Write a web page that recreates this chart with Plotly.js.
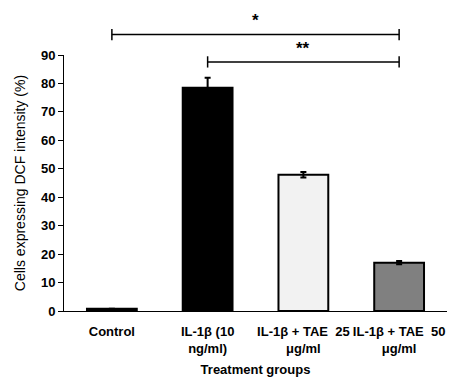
<!DOCTYPE html>
<html><head><meta charset="utf-8">
<script src="https://cdn.plot.ly/plotly-3.0.1.min.js"></script>
<style>body{margin:0;background:#fff}#c{width:457px;height:382px}</style>
</head><body><div id="c"></div>
<script>
const categories = ["Control", "IL-1β (10<br>ng/ml)", "IL-1β + TAE  25<br>μg/ml", "IL-1β + TAE  50<br>μg/ml"];
const values = [0.8, 78.5, 47.9, 17.0];
const errors = [0, 3.5, 1.0, 0.6];
const barColors = ["#000000", "#000000", "#f2f2f2", "#808080"];
const yTicks = [0, 10, 20, 30, 40, 50, 60, 70, 80, 90];
const compFrom = [0, 1];
const compTo = [3, 3];
const compLabel = ["*", "**"];
const compLevel = [1.08, 0.973];

const F = "Liberation Sans, Arial, sans-serif";
const shapes = [], annotations = [];
compFrom.forEach((f, i) => {
  const a = categories[f], b = categories[compTo[i]], y = compLevel[i];
  shapes.push({type:"line", xref:"x", yref:"paper", x0:a, x1:b, y0:y, y1:y, line:{color:"#000", width:1.5}});
  [a, b].forEach(c => shapes.push({type:"line", xref:"x", yref:"paper", x0:c, x1:c, y0:y-0.022, y1:y+0.022, line:{color:"#000", width:1.5}}));
  annotations.push({xref:"paper", yref:"paper", x:((f + compTo[i]) / 2 + 0.5) / categories.length, y:y + 0.008, text:compLabel[i], showarrow:false, yanchor:"bottom", font:{family:F, size:17, color:"#000", weight:"bold"}});
});

Plotly.newPlot("c", [{
  type:"bar", x:categories, y:values,
  marker:{color:barColors, line:{color:"#000", width:2}},
  error_y:{type:"data", array:errors, visible:true, color:"#000", thickness:2, width:3},
  cliponaxis:false
}], {
  width:457, height:382,
  margin:{l:64, r:10, t:55, b:71},
  paper_bgcolor:"#fff", plot_bgcolor:"#fff",
  bargap:0.48,
  showlegend:false,
  font:{family:F, color:"#000"},
  xaxis:{showline:true, linecolor:"#000", linewidth:1, ticks:"", showgrid:false, zeroline:false,
    ticklabelstandoff:8,
    tickfont:{family:F, size:13, weight:"bold", color:"#000"},
    title:{text:"Treatment groups", font:{family:F, size:13, weight:"bold", color:"#000"}, standoff:10}},
  yaxis:{range:[0,90], tickvals:yTicks, showline:true, linecolor:"#000", linewidth:1, ticks:"outside", ticklen:5, tickcolor:"#000",
    showgrid:false, zeroline:false,
    tickfont:{family:F, size:13, weight:"bold", color:"#000"},
    title:{text:"Cells expressing DCF intensity (%)", font:{family:F, size:14, color:"#000"}, standoff:12}},
  shapes:shapes, annotations:annotations
}, {displayModeBar:false, staticPlot:true});
</script></body></html>
